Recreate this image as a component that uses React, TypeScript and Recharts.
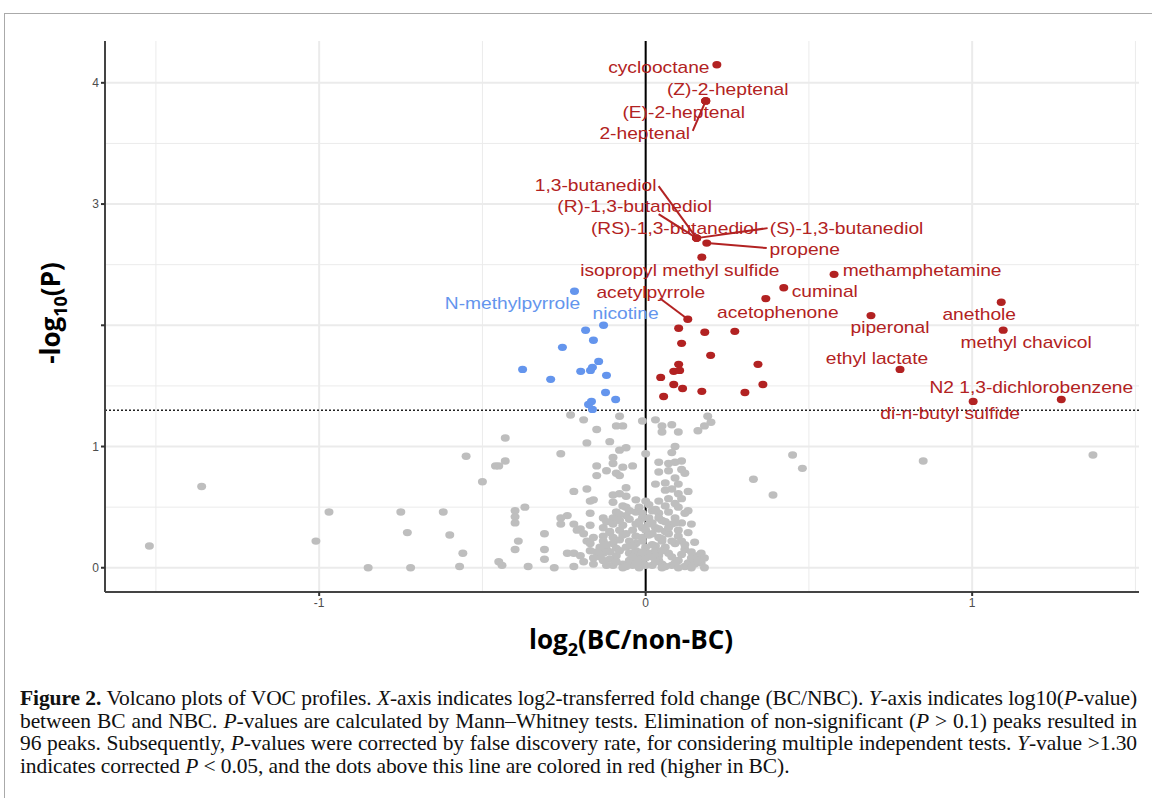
import React from 'react';
import { ScatterChart, Scatter, XAxis, YAxis, CartesianGrid, ReferenceLine } from 'recharts';

// log2(BC/non-BC) and -log10(P)

// labelled significant VOCs (higher in BC)
const redNames = [
  'cyclooctane', '(Z)-2-heptenal', '(E)-2-heptenal', '2-heptenal',
  '1,3-butanediol', '(R)-1,3-butanediol', '(RS)-1,3-butanediol', '(S)-1,3-butanediol',
  'propene', 'isopropyl methyl sulfide', 'methamphetamine', 'cuminal', 'acetophenone',
  'acetylpyrrole', 'piperonal', 'anethole', 'methyl chavicol', 'ethyl lactate',
  'N2 1,3-dichlorobenzene', 'di-n-butyl sulfide',
];
const redFC = [
  0.218, 0.184, 0.184, 0.184, 0.156, 0.156, 0.156, 0.156, 0.187, 0.172,
  0.577, 0.423, 0.368, 0.129, 0.69, 1.089, 1.095, 0.779, 1.273, 1.003,
];
const redLogP = [
  4.149, 3.851, 3.851, 3.851, 2.719, 2.719, 2.719, 2.719, 2.678, 2.562,
  2.42, 2.31, 2.22, 2.05, 2.08, 2.19, 1.96, 1.636, 1.388, 1.372,
];

// unlabelled significant points
const redOther: [number, number][] = [
  [0.101, 1.975], [0.181, 1.942], [0.273, 1.95], [0.11, 1.851], [0.199, 1.752],
  [0.344, 1.678], [0.101, 1.678], [0.086, 1.62], [0.104, 1.628], [0.046, 1.57],
  [0.086, 1.512], [0.113, 1.479], [0.172, 1.455], [0.304, 1.446], [0.359, 1.512],
  [0.055, 1.413],
];

// significant, lower in BC
const blueNames = ['N-methylpyrrole', 'nicotine'];
const bluePts: [number, number][] = [
  [-0.218, 2.281], [-0.129, 2.0], [-0.184, 1.959], [-0.16, 1.876], [-0.255, 1.818],
  [-0.144, 1.702], [-0.163, 1.653], [-0.169, 1.628], [-0.199, 1.62], [-0.377, 1.636],
  [-0.12, 1.587], [-0.291, 1.554], [-0.123, 1.446], [-0.092, 1.388], [-0.166, 1.372],
  [-0.175, 1.347], [-0.163, 1.306],
];

// non-significant
const greyPts: [number, number][] = [
  [-0.23, 1.26], [-0.19, 1.22], [-0.15, 1.14], [-0.08, 1.25], [-0.09, 1.17], [-0.07, 1.17],
  [-0.01, 1.21], [0.03, 1.22], [0.05, 1.17], [0.08, 1.18], [0.05, 1.12], [0.1, 1.12],
  [0.19, 1.25], [0.2, 1.2], [0.18, 1.17], [0.16, 1.13],
  [-0.43, 1.07], [-0.18, 1.03], [-0.11, 1.04], [-0.55, 0.92], [-0.43, 0.88], [-0.46, 0.84],
  [-0.45, 0.84], [-0.26, 0.94], [-0.08, 0.97], [-0.06, 0.99], [0.0, 0.94], [0.09, 1.0], [0.08, 0.95],
  [-0.1, 0.91], [-0.15, 0.84], [-0.1, 0.86], [-0.07, 0.83], [-0.04, 0.84], [0.04, 0.87],
  [0.07, 0.86], [0.09, 0.87], [0.11, 0.88], [-0.12, 0.8], [-0.09, 0.78], [-0.08, 0.76],
  [-0.15, 0.76], [0.04, 0.79], [0.07, 0.8], [0.11, 0.81], [0.12, 0.78],
  [-0.5, 0.71], [0.33, 0.73], [0.03, 0.69], [0.06, 0.7], [0.09, 0.74], [0.1, 0.69],
  [-0.06, 0.66], [-0.22, 0.63], [-0.18, 0.65], [0.06, 0.64], [0.08, 0.65], [0.1, 0.61], [0.13, 0.63],
  [-0.1, 0.6], [-0.08, 0.61], [-0.06, 0.59], [-0.03, 0.56], [0.0, 0.55], [0.04, 0.55],
  [0.07, 0.57], [0.11, 0.57], [-0.17, 0.55], [-0.16, 0.56], [-0.1, 0.54], [-0.07, 0.51],
  [-0.62, 0.46], [-0.37, 0.5], [-0.4, 0.47], [-0.4, 0.42], [-0.4, 0.37], [-0.24, 0.43],
  [-0.17, 0.45], [-0.13, 0.41], [-0.1, 0.41], [-0.06, 0.43], [-0.03, 0.46], [0.02, 0.47],
  [0.04, 0.45], [0.07, 0.46], [0.1, 0.5], [0.13, 0.47], [0.14, 0.36], [0.12, 0.45],
  [-0.26, 0.41], [-0.26, 0.36], [-0.22, 0.36], [-0.2, 0.32], [-0.17, 0.35], [-0.13, 0.33],
  [-0.1, 0.36], [-0.07, 0.35], [-0.03, 0.36], [-0.01, 0.33], [0.02, 0.37], [0.05, 0.39],
  [0.08, 0.36], [0.11, 0.37],
  [-0.6, 0.27], [-0.21, 0.31], [-0.19, 0.28], [-0.16, 0.25], [-0.13, 0.26], [-0.1, 0.25],
  [-0.06, 0.28], [-0.03, 0.26], [-0.01, 0.25], [0.02, 0.28], [0.04, 0.25], [0.07, 0.28],
  [0.1, 0.26], [0.11, 0.22],
  [-0.39, 0.22], [-0.4, 0.15], [-0.31, 0.28], [-0.31, 0.15], [-0.31, 0.07], [-0.56, 0.12], [-0.57, 0.01],
  [-0.18, 0.22], [-0.17, 0.2], [-0.13, 0.22], [-0.1, 0.2], [-0.06, 0.17], [-0.03, 0.2],
  [0.0, 0.17], [0.03, 0.18], [0.06, 0.17], [0.09, 0.2],
  [-0.45, 0.05], [-0.44, 0.02], [-0.36, 0.01], [-0.28, 0.0], [-0.22, 0.01], [-0.24, 0.12],
  [-0.22, 0.12], [-0.2, 0.1],
  [-0.13, 0.12], [-0.09, 0.1], [-0.05, 0.12], [-0.02, 0.1], [0.01, 0.12], [0.04, 0.1], [0.07, 0.12],
  [-0.16, 0.03], [-0.13, 0.06], [-0.1, 0.02], [-0.07, 0.03], [-0.04, 0.02], [-0.01, 0.04],
  [0.02, 0.02], [0.05, 0.03], [0.08, 0.02], [0.1, 0.06], [0.13, 0.04], [0.16, 0.1],
  [0.17, 0.04], [0.18, 0.0], [0.17, 0.12],
  [-0.06, 0.5], [-0.02, 0.5], [-0.01, 0.41], [0.01, 0.41], [-0.08, 0.31], [0.0, 0.31],
  [-0.09, 0.16], [0.03, 0.14], [-0.11, 0.07], [-0.05, 0.06], [0.04, 0.06], [-0.02, 0.07],
  [-0.05, 0.22], [0.05, 0.22], [-0.08, 0.44], [0.03, 0.33], [-0.12, 0.15], [0.12, 0.15],
  [0.14, 0.08], [-0.14, 0.09], [0.0, 0.08], [-0.03, 0.14], [0.06, 0.3], [-0.11, 0.29],
  [0.09, 0.41], [0.01, 0.52],
  // dense core
  [-0.12, 0.02], [-0.09, 0.05], [-0.06, 0.01], [-0.03, 0.05], [0.0, 0.02], [0.03, 0.05],
  [0.06, 0.01], [0.09, 0.04], [0.12, 0.01], [0.15, 0.03],
  [-0.11, 0.13], [-0.08, 0.14], [-0.04, 0.09], [-0.01, 0.13], [0.02, 0.09], [0.05, 0.14],
  [0.08, 0.09], [0.11, 0.11], [0.14, 0.13],
  [-0.12, 0.19], [-0.08, 0.23], [-0.04, 0.18], [-0.01, 0.22], [0.02, 0.19], [0.05, 0.24],
  [0.08, 0.22], [0.12, 0.19], [0.15, 0.21],
  [-0.11, 0.3], [-0.07, 0.27], [-0.04, 0.31], [0.01, 0.27], [0.04, 0.32], [0.07, 0.33],
  [0.1, 0.31], [0.13, 0.29],
  [-0.12, 0.38], [-0.08, 0.39], [-0.05, 0.4], [-0.02, 0.38], [0.01, 0.36], [0.04, 0.41],
  [0.06, 0.38], [0.09, 0.37],
  [-0.09, 0.46], [-0.05, 0.47], [-0.01, 0.45], [0.03, 0.48], [0.06, 0.51], [0.09, 0.53],
  [-0.14, 0.17], [-0.15, 0.13], [-0.16, 0.08], [-0.19, 0.05], [-0.17, 0.14], [0.16, 0.06],
  [0.18, 0.08], [0.14, 0.0], [-0.07, 0.0], [0.05, 0.0], [-0.02, 0.0], [0.1, 0.0],
  [-1.52, 0.18], [-1.36, 0.67], [-1.01, 0.22], [-0.97, 0.46], [-0.85, 0.0], [-0.75, 0.46],
  [-0.73, 0.29], [-0.72, 0.0],
  [0.45, 0.93], [0.48, 0.82], [0.39, 0.6], [0.85, 0.88], [1.37, 0.93],
];

const xTicks = [-1, 0, 1];
const xMinor = [-1.5, -0.5, 0.5, 1.5];
const yTicks = [0, 1, 2, 3, 4];
const yTickLabels = ['0', '1', '', '3', '4'];
const yMinor = [0.5, 1.5, 2.5, 3.5];
const threshold = 1.3;

const xDomain = [-1.656, 1.511];
const yDomain = [-0.2, 4.345];

const RED = '#B22222';
const BLUE = '#6495ED';
const GREY = '#BEBEBE';

// where each label sits relative to its point (px), plus optional segment start
const labelLayout: Record<string, { dx: number; dy: number; seg?: [number, number] }> = {
  'cyclooctane': { dx: -58, dy: 3 },
  '(Z)-2-heptenal': { dx: 22, dy: -11 },
  '(E)-2-heptenal': { dx: -22, dy: 12 },
  '2-heptenal': { dx: -61, dy: 33, seg: [-13, 30] },
  '1,3-butanediol': { dx: -101, dy: -53, seg: [-38, -52] },
  '(R)-1,3-butanediol': { dx: -62, dy: -32, seg: [-38, -24] },
  '(RS)-1,3-butanediol': { dx: -22, dy: -10 },
  '(S)-1,3-butanediol': { dx: 150, dy: -10, seg: [71, -10] },
  'propene': { dx: 98, dy: 6, seg: [60, 5] },
  'isopropyl methyl sulfide': { dx: -22, dy: 13 },
  'methamphetamine': { dx: 88, dy: -4 },
  'cuminal': { dx: 41, dy: 4 },
  'acetophenone': { dx: 12, dy: 14 },
  'acetylpyrrole': { dx: -37, dy: -27, seg: [-28, -21] },
  'piperonal': { dx: 19, dy: 12 },
  'anethole': { dx: -22, dy: 12 },
  'methyl chavicol': { dx: 23, dy: 12 },
  'ethyl lactate': { dx: -23, dy: -11 },
  'N2 1,3-dichlorobenzene': { dx: -30, dy: -12 },
  'di-n-butyl sulfide': { dx: -23, dy: 12 },
  'N-methylpyrrole': { dx: -62, dy: 12 },
  'nicotine': { dx: 22, dy: -12 },
};

const redData = [
  ...redFC.map((fc, i) => ({ fc, p: redLogP[i] })),
  ...redOther.map(([fc, p]) => ({ fc, p })),
];
const blueData = bluePts.map(([fc, p]) => ({ fc, p }));
const greyData = greyPts.map(([fc, p]) => ({ fc, p }));
const labelData = [
  ...redNames.map((name, i) => ({ fc: redFC[i], p: redLogP[i], name, color: RED })),
  ...blueNames.map((name, i) => ({ fc: bluePts[i][0], p: bluePts[i][1], name, color: BLUE })),
];

const dot = (color: string) => (props: any) => (
  <ellipse cx={props.cx} cy={props.cy} rx={4.5} ry={3.7} fill={color} />
);

const labelShape = (props: any) => {
  const { cx, cy, payload } = props;
  const l = labelLayout[payload.name];
  if (!l) return <g />;
  const tx = cx + l.dx;
  const ty = cy + l.dy;
  return (
    <g>
      {l.seg && (
        <line x1={cx + l.seg[0]} y1={cy + l.seg[1]} x2={cx} y2={cy} stroke={payload.color} strokeWidth={2} />
      )}
      <text
        transform={`translate(${tx},${ty}) scale(1.2,1)`}
        textAnchor="middle"
        dominantBaseline="central"
        fontSize={16}
        fontFamily="'Liberation Sans', Arial, sans-serif"
        fill={payload.color}
      >
        {payload.name}
      </text>
    </g>
  );
};

const tickStyle = { fontSize: 12, fill: '#4d4d4d', fontFamily: "'Liberation Sans', Arial, sans-serif" };

const captionLine = { textAlign: 'justify' as const, textAlignLast: 'justify' as const };

export default function App() {
  return (
    <div style={{ position: 'absolute', left: 0, top: 0, width: 1152, height: 798, background: '#fff', overflow: 'hidden' }}>
      <div style={{ position: 'absolute', left: 4, top: 13, width: 1200, height: 800, borderLeft: '1.5px solid #aaa', borderTop: '1.5px solid #aaa' }} />
      <div style={{ position: 'absolute', left: 0, top: 0 }}>
        <ScatterChart width={1152} height={680} margin={{ top: 41, right: 13, left: 0, bottom: 58 }}>
          <CartesianGrid stroke="#ebebeb" strokeWidth={1} horizontalValues={yMinor} verticalValues={xMinor} />
          <CartesianGrid stroke="#ebebeb" strokeWidth={2} horizontalValues={yTicks} verticalValues={xTicks} />
          <XAxis
            dataKey="fc"
            type="number"
            domain={xDomain}
            ticks={xTicks}
            allowDataOverflow
            height={30}
            tickSize={4}
            tick={tickStyle}
            tickLine={{ stroke: '#333', strokeWidth: 2 }}
            axisLine={{ stroke: '#444', strokeWidth: 2 }}
          />
          <XAxis xAxisId="top" orientation="top" type="number" domain={xDomain} height={0} tick={false} tickLine={false} axisLine={{ stroke: '#666', strokeWidth: 1.5 }} />
          <YAxis
            dataKey="p"
            type="number"
            domain={yDomain}
            ticks={yTicks}
            allowDataOverflow
            width={105}
            tickSize={4}
            tick={tickStyle}
            tickFormatter={(v: number) => yTickLabels[yTicks.indexOf(v)] ?? ''}
            tickLine={{ stroke: '#333', strokeWidth: 2 }}
            axisLine={{ stroke: '#444', strokeWidth: 2 }}
          />
          <YAxis yAxisId="right" orientation="right" type="number" domain={yDomain} width={0} tick={false} tickLine={false} axisLine={{ stroke: '#444', strokeWidth: 2 }} />
          <Scatter data={greyData} shape={dot(GREY)} isAnimationActive={false} />
          <Scatter data={blueData} shape={dot(BLUE)} isAnimationActive={false} />
          <Scatter data={redData} shape={dot(RED)} isAnimationActive={false} />
          <ReferenceLine y={threshold} stroke="#222" strokeWidth={1.5} strokeDasharray="2 2" />
          <ReferenceLine x={0} stroke="#000" strokeWidth={2} />
          <Scatter data={labelData} shape={labelShape} isAnimationActive={false} />
        </ScatterChart>
      </div>
      <div
        style={{
          position: 'absolute', left: 52, top: 313, transform: 'translate(-50%, -50%) rotate(-90deg)',
          fontFamily: "'Open Sans', sans-serif", fontWeight: 700, fontSize: 26, whiteSpace: 'nowrap', color: '#000',
        }}
      >
        -log<sub style={{ fontSize: 18 }}>10</sub>(P)
      </div>
      <div
        style={{
          position: 'absolute', left: 631, top: 641, transform: 'translate(-50%, -50%)',
          fontFamily: "'Open Sans', sans-serif", fontWeight: 700, fontSize: 26, whiteSpace: 'nowrap', color: '#000',
        }}
      >
        log<sub style={{ fontSize: 18 }}>2</sub>(BC/non-BC)
      </div>
      <div style={{ position: 'absolute', left: 20, top: 687, width: 1117, fontFamily: "'Liberation Serif', serif", fontSize: 21.5, lineHeight: '22.5px', letterSpacing: '-0.1px', color: '#111' }}>
        <div style={captionLine}>
          <b>Figure 2.</b> Volcano plots of VOC profiles. <i>X</i>-axis indicates log2-transferred fold change (BC/NBC). <i>Y</i>-axis indicates log10(<i>P</i>-value)
        </div>
        <div style={captionLine}>
          between BC and NBC. <i>P</i>-values are calculated by Mann–Whitney tests. Elimination of non-significant (<i>P</i> &gt; 0.1) peaks resulted in
        </div>
        <div style={captionLine}>
          96 peaks. Subsequently, <i>P</i>-values were corrected by false discovery rate, for considering multiple independent tests. <i>Y</i>-value &gt;1.30
        </div>
        <div>
          indicates corrected <i>P</i> &lt; 0.05, and the dots above this line are colored in red (higher in BC).
        </div>
      </div>
    </div>
  );
}
